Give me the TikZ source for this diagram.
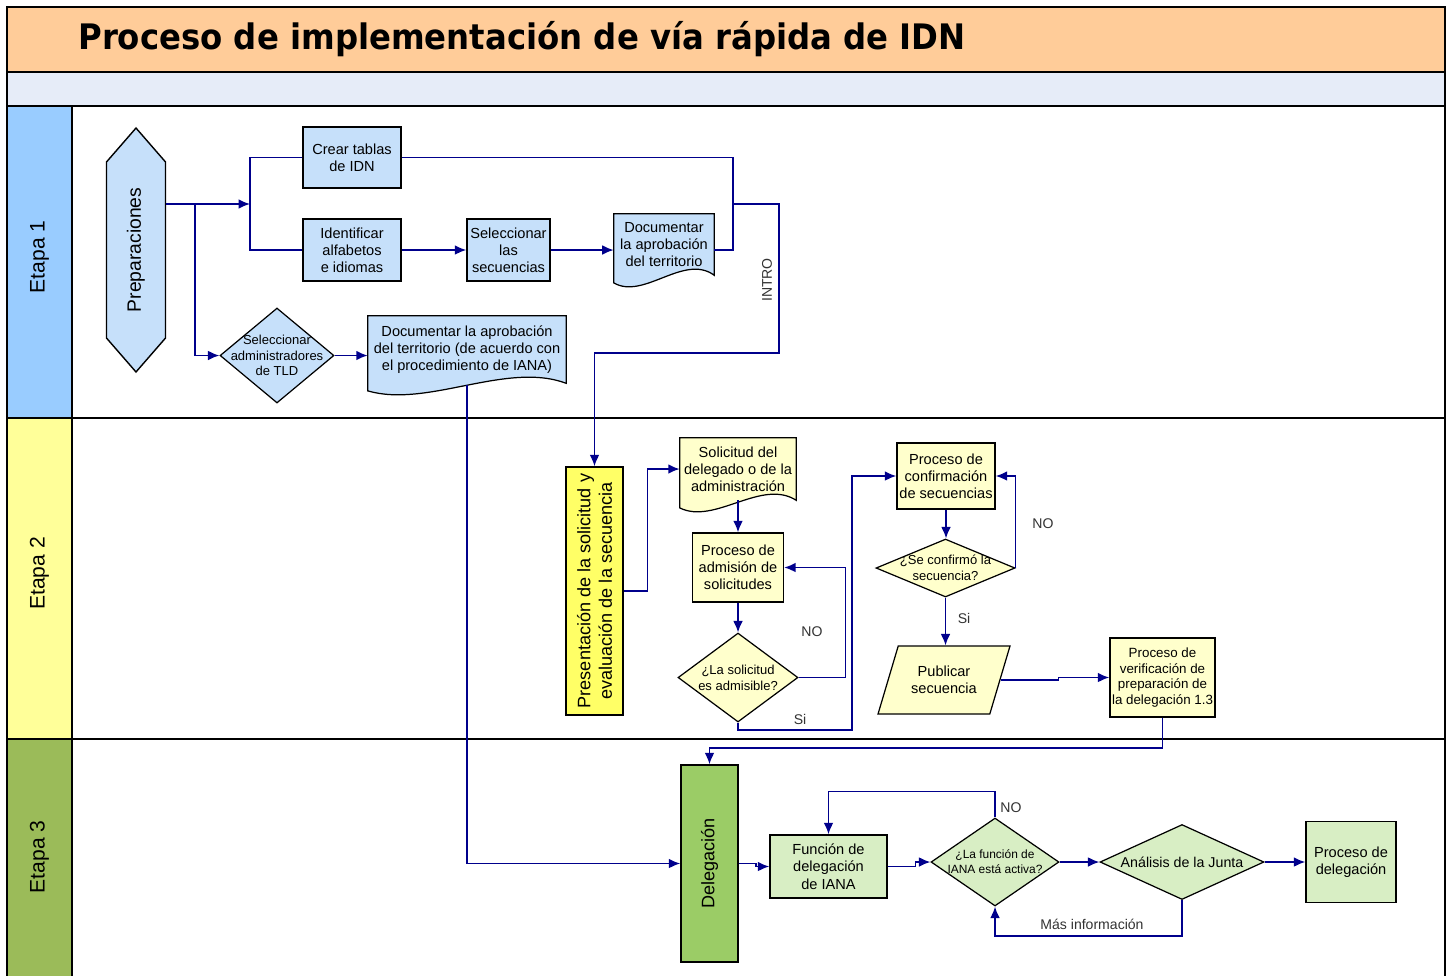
\documentclass[tikz,border=0pt]{standalone}
\usepackage{fontspec}
\setmainfont{Liberation Sans}
\newfontfamily\titlefont{DejaVu Sans}
\usetikzlibrary{shapes.geometric, shapes.symbols, arrows.meta, calc}

\definecolor{titlebg}{RGB}{255,204,153}
\definecolor{bandbg}{RGB}{230,236,248}
\definecolor{lanea}{RGB}{153,204,255}
\definecolor{laneb}{RGB}{255,255,153}
\definecolor{lanec}{RGB}{155,187,89}
\definecolor{boxa}{RGB}{198,224,250}
\definecolor{boxb}{RGB}{255,255,204}
\definecolor{barb}{RGB}{255,255,102}
\definecolor{boxc}{RGB}{216,238,196}
\definecolor{barc}{RGB}{155,204,102}
\definecolor{navyflow}{RGB}{0,0,140}

\pgfdeclarelayer{lanes}
\pgfdeclarelayer{shapes}
\pgfsetlayers{lanes,shapes,main}

\tikzset{
  arr/.style={draw=navyflow, line width=0.9pt, -{Latex[length=6.5pt,width=5.5pt]}},
  ln/.style={draw=navyflow, line width=0.9pt},
  procbox/.style={draw, line width=0.8pt, align=center, inner sep=1pt,
    font=\fontsize{8.3}{9.8}\selectfont},
  docbox/.style={align=center, inner sep=1pt, font=\fontsize{8.3}{9.8}\selectfont},
  decbox/.style={diamond, draw, line width=0.7pt, inner sep=0pt},
  declabel/.style={align=center, font=\fontsize{7.4}{9}\selectfont},
  stagebar/.style={draw, line width=0.8pt, rotate=90, align=center,
    font=\fontsize{10.3}{12.3}\selectfont},
  lanetitle/.style={rotate=90, font=\fontsize{12}{14}\selectfont},
  flowtag/.style={font=\fontsize{8}{10}\selectfont, text=black!80}
}

\newcommand{\docshape}[2]{%
  \draw[fill=#2, line width=0.7pt] (#1.north west) -- (#1.north east) -- (#1.south east)
    .. controls ($(#1.south east)!0.3!(#1.south west)+(0,0.45cm)$)
    and ($(#1.south east)!0.7!(#1.south west)+(0,-0.5cm)$) .. ($(#1.south west)+(0,-0.15cm)$)
    -- cycle;}

\begin{document}
\begin{tikzpicture}[x=0.02cm, y=-0.02cm]
  \useasboundingbox (0,0) rectangle (1449,975);

  \begin{pgfonlayer}{lanes}
    \draw[line width=1pt, fill=titlebg] (7,7) rectangle (1445,72);
    \draw[line width=1pt, fill=bandbg] (7,72) rectangle (1445,106);
    \foreach \i/\top/\bot/\col in {1/106/418/lanea, 2/418/739/laneb, 3/739/985/lanec} {
      \draw[line width=1pt, fill=white] (72,\top) rectangle (1445,\bot);
      \draw[line width=1pt, fill=\col] (7,\top) rectangle (72,\bot);
      \node[lanetitle] (etapa\i) at (39.5, {(\top+\bot)/2 - 5}) {Etapa \i};
    }
  \end{pgfonlayer}

  \node[anchor=west, inner sep=0pt, font=\titlefont\bfseries\fontsize{20}{24}\selectfont] (title) at (78,39)
    {\scalebox{0.92}[1]{Proceso de implementación de vía rápida de IDN}};

  \node[signal, signal to=east and west, signal pointer angle=82, draw, line width=0.8pt,
    fill=boxa, rotate=90, minimum width=4.88cm, minimum height=1.18cm,
    font=\fontsize{11}{13}\selectfont] (prep) at (136,250) {Preparaciones};
  \node[procbox, fill=boxa, minimum width=1.96cm, minimum height=1.22cm] (tablas) at (352,157.5) {Crear tablas\\de IDN};
  \node[procbox, fill=boxa, minimum width=1.96cm, minimum height=1.24cm] (alfab) at (352,250) {Identificar\\alfabetos\\e idiomas};
  \node[procbox, fill=boxa, minimum width=1.66cm, minimum height=1.24cm] (selsec) at (508.5,250) {Seleccionar\\las\\secuencias};
  \node[docbox, minimum width=2cm, minimum height=1.22cm] (doc1) at (664,244.5) {Documentar\\la aprobación\\del territorio};
  \node[decbox, fill=boxa, minimum width=2.28cm, minimum height=1.9cm,
    label={[declabel]center:Seleccionar\\administradores\\de TLD}] (dadm) at (277,355.5) {};
  \node[docbox, minimum width=3.96cm, minimum height=1.34cm] (doc2) at (467,349.5) {Documentar la aprobación\\del territorio (de acuerdo con\\el procedimiento de IANA)};

  \node[stagebar, fill=barb, minimum width=4.96cm, minimum height=1.14cm] (pres) at (594.5,591) {Presentación de la solicitud y\\evaluación de la secuencia};
  \node[docbox, minimum width=2.32cm, minimum height=1.24cm] (sol) at (738,469) {Solicitud del\\delegado o de la\\administración};
  \node[procbox, fill=boxb, minimum width=1.82cm, minimum height=1.38cm] (adm) at (738,567.5) {Proceso de\\admisión de\\solicitudes};
  \node[decbox, fill=boxb, minimum width=2.4cm, minimum height=1.78cm,
    label={[declabel]center:¿La solicitud\\es admisible?}] (dsol) at (738,677.5) {};
  \node[procbox, fill=boxb, minimum width=1.96cm, minimum height=1.32cm] (conf) at (946,476) {Proceso de\\confirmación\\de secuencias};
  \node[decbox, fill=boxb, minimum width=2.78cm, minimum height=1.16cm,
    label={[declabel]center:¿Se confirmó la\\secuencia?}] (dconf) at (945.5,568) {};
  \node[trapezium, trapezium left angle=63, trapezium right angle=117, trapezium stretches body,
    draw, line width=0.7pt, fill=boxb, minimum width=2.64cm, minimum height=1.36cm, align=center,
    font=\fontsize{8.3}{9.8}\selectfont] (pub) at (944,680) {Publicar\\secuencia};
  \node[procbox, fill=boxb, minimum width=2.1cm, minimum height=1.58cm,
    font=\fontsize{7.6}{9}\selectfont] (verif) at (1162.5,677.5) {Proceso de\\verificación de\\preparación de\\la delegación 1.3};

  \node[stagebar, fill=barc, minimum width=3.94cm, minimum height=1.14cm] (deleg) at (709.5,863.5) {Delegación};
  \node[procbox, fill=boxc, minimum width=2.34cm, minimum height=1.26cm] (func) at (828.5,866.5) {Función de\\delegación\\de IANA};
  \node[decbox, fill=boxc, minimum width=2.56cm, minimum height=1.76cm,
    label={[declabel, font=\fontsize{6.8}{8.6}\selectfont]center:¿La función de\\IANA está activa?}] (dfunc) at (995,862) {};
  \node[decbox, fill=boxc, minimum width=3.28cm, minimum height=1.5cm,
    label={[declabel, font=\fontsize{8.1}{9.6}\selectfont]center:Análisis de la Junta}] (junta) at (1182,862) {};
  \node[procbox, fill=boxc, minimum width=1.8cm, minimum height=1.62cm] (pdel) at (1351,862) {Proceso de\\delegación};

  \begin{pgfonlayer}{shapes}
    \docshape{doc1}{boxa}
    \docshape{doc2}{boxa}
    \docshape{sol}{boxb}
  \end{pgfonlayer}

  \coordinate (p1) at (195,204);
  \coordinate (p2) at (250,204);
  \coordinate (j1) at (733,204);
  \coordinate (j2) at (779,353);
  \coordinate (c1) at (852,730);

  \draw[ln] (prep.south |- p1) -- (p1);
  \draw[arr] (p1) -- (p2);
  \draw[ln] (tablas.west) -| (p2) |- (alfab.west);
  \draw[arr] (p1) |- (dadm.west);
  \draw[arr] (alfab.east) -- (selsec.west);
  \draw[arr] (selsec.east) -- (selsec.east -| doc1.west);
  \draw[ln] (tablas.east) -| (j1);
  \draw[ln] (selsec.east -| doc1.east) -| (j1);
  \draw[arr] (j1) -| (j2) -| (pres.east);
  \node[flowtag, rotate=90] (intro) at (767,280) {INTRO};
  \draw[arr] (dadm.east) -- (dadm.east -| doc2.west);
  \draw[arr] ([yshift=-1pt]doc2.south) |- (deleg.north);

  \draw[arr] (pres.south) -- ++(24,0) |- (sol.west);
  \draw[arr] (sol.south) -- (adm.north);
  \draw[arr] (adm.south) -- (dsol.north);
  \draw[arr] (dsol.east) -- ++(47,0) |- (adm.east);
  \node[flowtag] (no1) at (812,632) {NO};
  \draw[arr] (dsol.south) |- (c1) |- (conf.west);
  \node[flowtag] (si1) at (800,719) {Si};
  \draw[arr] (conf.south) -- (conf.south |- dconf.north);
  \draw[arr] (dconf.east) |- (conf.east);
  \node[flowtag] (no2) at (1043,524) {NO};
  \draw[arr] (dconf.south) -- (dconf.south |- pub.north);
  \node[flowtag] (si2) at (964,618) {Si};
  \draw[arr] (pub.east) -- ++(58,0) |- (verif.west);
  \draw[arr] (verif.south) -- ++(0,30) -| (deleg.east);

  \draw[arr] (deleg.south) -- ++(17,0) |- (func.west);
  \draw[arr] (func.east) -- ++(28,0) |- (dfunc.west);
  \draw[arr] (dfunc.north) -- ++(0,-26) -| (func.north);
  \node[flowtag] (no3) at (1011,808) {NO};
  \draw[arr] (dfunc.east) -- (junta.west);
  \draw[arr] (junta.east) -- (pdel.west);
  \draw[arr] (junta.south) -- ++(0,36) -| (dfunc.south);
  \node[flowtag] (masinfo) at (1092,924) {Más información};
\end{tikzpicture}
\end{document}
